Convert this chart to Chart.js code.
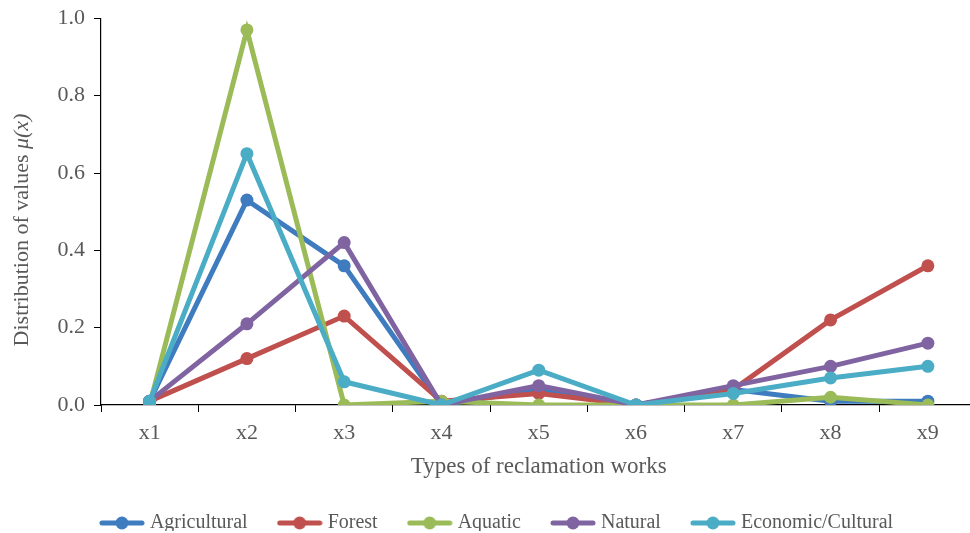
<!DOCTYPE html>
<html>
<head>
<meta charset="utf-8">
<script src="https://cdn.jsdelivr.net/npm/chart.js@4"></script>
<style>
  html, body { margin: 0; padding: 0; background: #fff; overflow: hidden; }
  #chart { display: block; width: 983px; height: 533px; }
</style>
</head>
<body>
<canvas id="chart" width="983" height="533"></canvas>
<script>
var categories = ['x1', 'x2', 'x3', 'x4', 'x5', 'x6', 'x7', 'x8', 'x9'];
var seriesNames = ['Agricultural', 'Forest', 'Aquatic', 'Natural', 'Economic/Cultural'];
var agricultural = [0.01, 0.53, 0.36, 0.00, 0.04, 0.00, 0.04, 0.01, 0.01];
var forest       = [0.01, 0.12, 0.23, 0.01, 0.03, 0.00, 0.04, 0.22, 0.36];
var aquatic      = [0.00, 0.97, 0.00, 0.01, 0.00, 0.00, 0.00, 0.02, 0.00];
var natural      = [0.01, 0.21, 0.42, 0.00, 0.05, 0.00, 0.05, 0.10, 0.16];
var economic     = [0.01, 0.65, 0.06, 0.00, 0.09, 0.00, 0.03, 0.07, 0.10];
var yTicks = [0.0, 0.2, 0.4, 0.6, 0.8, 1.0];

var colors = ['#3f7bbf', '#c0504d', '#9bbb59', '#8064a2', '#4bacc6'];
var allData = [agricultural, forest, aquatic, natural, economic];
var serif = "'Liberation Serif', 'DejaVu Serif', serif";

// little line-with-dot picture for the legend
function legendMarker(color) {
    var c = document.createElement('canvas');
    c.width = 46;
    c.height = 14;
    var g = c.getContext('2d');
    g.strokeStyle = color;
    g.lineWidth = 5;
    g.lineCap = 'round';
    g.beginPath();
    g.moveTo(3, 7);
    g.lineTo(43, 7);
    g.stroke();
    g.fillStyle = color;
    g.beginPath();
    g.arc(23, 7, 6.5, 0, Math.PI * 2);
    g.fill();
    return c;
}

var datasets = seriesNames.map(function(name, i) {
    return {
        label: name,
        data: allData[i],
        borderColor: colors[i],
        backgroundColor: colors[i],
        borderWidth: 5,
        pointRadius: 6.5,
        pointHoverRadius: 6.5,
        pointBackgroundColor: colors[i],
        pointBorderWidth: 0,
        tension: 0,
        order: seriesNames.length - i
    };
});

// y title with italic mu(x)
var yTitlePlugin = {
    id: 'yTitle',
    afterInit: function(chart) {
        // keep the legend box short so it sits near the bottom edge
        var lg = chart.legend;
        var fit = lg.fit;
        lg.fit = function() {
            fit.call(this);
            this.height = 52;
        };
    },
    afterLayout: function(chart) {
        // nudge the legend a bit left and up, canvas is wider than the window
        chart.legend.left -= 8;
        chart.legend.right -= 8;
        chart.legend.top -= 2;
        chart.legend.bottom -= 2;
    },
    afterDraw: function(chart) {
        var ctx = chart.ctx;
        var a = 'Distribution of values ';
        var b = '\u03bc(x)';
        ctx.save();
        ctx.translate(22, 230);
        ctx.rotate(-Math.PI / 2);
        ctx.fillStyle = '#595959';
        ctx.textBaseline = 'middle';
        ctx.font = '22px ' + serif;
        var wa = ctx.measureText(a).width;
        ctx.font = 'italic 22px ' + serif;
        var wb = ctx.measureText(b).width;
        var x0 = -(wa + wb) / 2;
        ctx.font = '22px ' + serif;
        ctx.fillText(a, x0, 0);
        ctx.font = 'italic 22px ' + serif;
        ctx.fillText(b, x0 + wa, 0);
        ctx.restore();
    }
};

new Chart(document.getElementById('chart').getContext('2d'), {
    type: 'line',
    data: {
        labels: categories,
        datasets: datasets
    },
    options: {
        responsive: false,
        devicePixelRatio: 1,
        animation: false,
        layout: {
            padding: { left: 30, top: 4, right: 0, bottom: 0 }
        },
        plugins: {
            tooltip: { enabled: false },
            legend: {
                position: 'bottom',
                reverse: true,
                labels: {
                    usePointStyle: true,
                    pointStyleWidth: 36,
                    boxHeight: 20,
                    padding: 34,
                    color: '#595959',
                    font: { family: serif, size: 20 },
                    generateLabels: function(chart) {
                        var items = Chart.defaults.plugins.legend.labels.generateLabels(chart);
                        items.forEach(function(it) {
                            it.pointStyle = legendMarker(colors[it.datasetIndex]);
                        });
                        return items;
                    }
                }
            }
        },
        scales: {
            x: {
                offset: true,
                afterFit: function(scale) { scale.height = 76; },
                border: { color: '#000', width: 1.2 },
                grid: {
                    offset: true,
                    drawOnChartArea: false,
                    drawTicks: true,
                    tickLength: 7,
                    color: '#000'
                },
                ticks: {
                    color: '#595959',
                    padding: 8,
                    font: { family: serif, size: 22 }
                },
                title: {
                    display: true,
                    text: 'Types of reclamation works',
                    color: '#595959',
                    font: { family: serif, size: 23 },
                    padding: { top: 4, bottom: 0 }
                }
            },
            y: {
                min: 0,
                max: 1,
                afterFit: function(scale) { scale.width = 71; },
                afterBuildTicks: function(scale) {
                    scale.ticks = yTicks.map(function(v) { return { value: v }; });
                },
                border: { color: '#000', width: 1.2 },
                grid: {
                    drawOnChartArea: false,
                    drawTicks: true,
                    tickLength: 7,
                    color: '#000'
                },
                ticks: {
                    color: '#595959',
                    padding: 9,
                    font: { family: serif, size: 22, lineHeight: 0.85 },
                    callback: function(v) { return Number(v).toFixed(1); }
                }
            }
        }
    },
    plugins: [yTitlePlugin]
});
</script>
</body>
</html>
